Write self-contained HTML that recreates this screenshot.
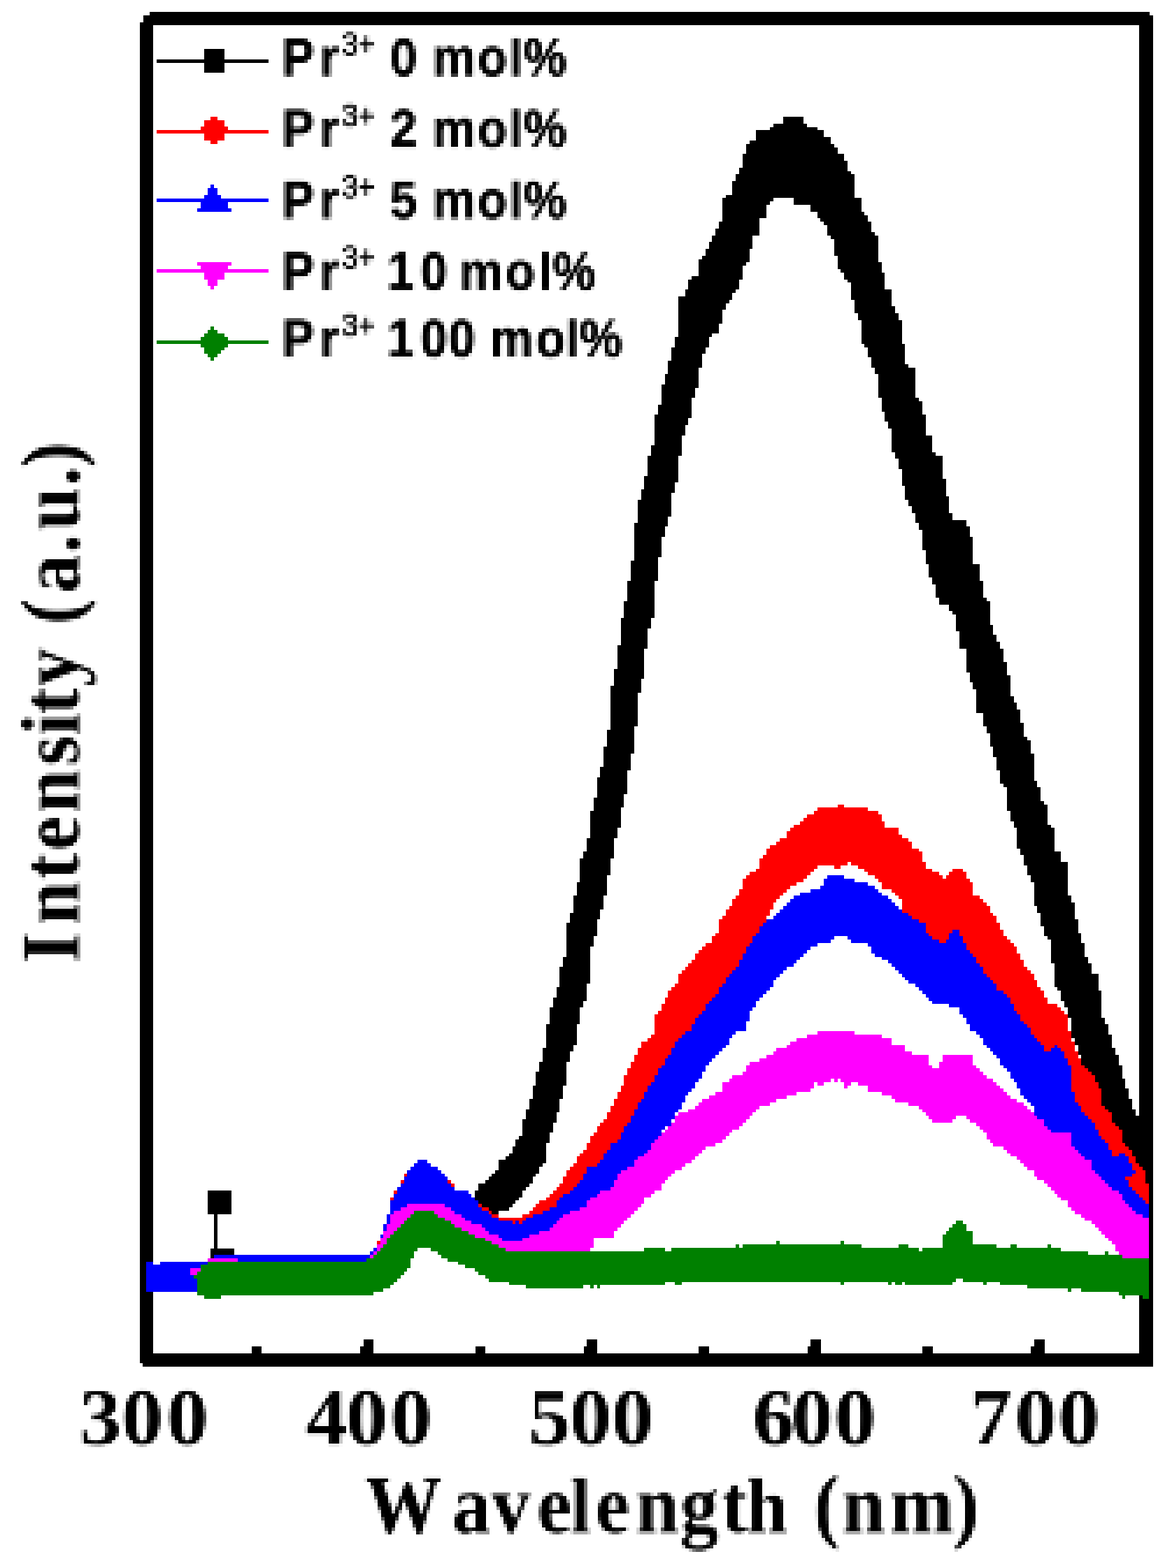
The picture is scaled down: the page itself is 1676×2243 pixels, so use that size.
<!DOCTYPE html>
<html lang="en"><head><meta charset="utf-8"><title>PL intensity vs wavelength</title><style>
html,body{margin:0;padding:0;background:#fff;}
body{width:1676px;height:2243px;overflow:hidden;}
svg{display:block;}
text{font-kerning:none;fill:#000;}
.lg text{font-family:"Liberation Sans",sans-serif;font-weight:700;font-size:76.2px;white-space:pre;stroke:#000;stroke-width:1px;}
.lg .sl{font-size:72px;}
.ax .sa{font-size:112px;}
.lg .sup{font-weight:400;font-size:46.5px;stroke:#000;stroke-width:1.2px;}
.tk text{font-family:"Liberation Serif",serif;font-weight:700;font-size:114.5px;}
.ax{font-family:"Liberation Serif",serif;font-weight:700;font-size:118.0px;white-space:pre;}
</style></head><body>
<svg width="1676" height="2243" viewBox="0 0 1676 2243" shape-rendering="crispEdges">
<rect width="1676" height="2243" fill="#fff"/>
<g fill="#000">
<rect x="199.5" y="17" width="1449" height="19"/>
<rect x="199.5" y="1935.7" width="1449" height="19.3"/>
<rect x="199.5" y="17" width="19.3" height="1938"/>
<rect x="1629" y="17" width="19.5" height="1938"/>
<rect x="519.5" y="1916" width="14.5" height="21"/>
<rect x="514.7" y="1926" width="5" height="11"/>
<rect x="839.3" y="1916" width="14.5" height="21"/>
<rect x="834.5" y="1926" width="5" height="11"/>
<rect x="1159.3" y="1916" width="14.5" height="21"/>
<rect x="1154.5" y="1926" width="5" height="11"/>
<rect x="1479.0" y="1916" width="14.5" height="21"/>
<rect x="1474.2" y="1926" width="5" height="11"/>
<rect x="359.8" y="1926" width="14.5" height="11"/>
<rect x="679.5" y="1926" width="14.5" height="11"/>
<rect x="999.3" y="1926" width="14.5" height="11"/>
<rect x="1319.3" y="1926" width="14.5" height="11"/>
</g>
<g fill="#fff">
<rect x="199" y="16.5" width="5.5" height="15.2"/>
<rect x="199" y="16.5" width="15.2" height="5.2"/>
<rect x="199" y="1950.3" width="5.3" height="5"/>
<rect x="1644" y="16.5" width="5" height="5"/>
</g>
<g fill="#000"><rect x="296.7" y="1703.3" width="34" height="33.6"/><rect x="306" y="1736" width="4.9" height="51"/><rect x="301.3" y="1786" width="34" height="14.5"/></g>
<g>
<path fill="#000000" d="M1120.08 167.11H1149.15V176.8H1120.08ZM1105.55 176.8H1153.99V181.65H1105.55ZM1100.7 181.65H1168.52V186.49H1100.7ZM1081.32 186.49H1178.21V196.18H1081.32ZM1081.32 196.18H1187.9V201.02H1081.32ZM1071.63 201.02H1187.9V205.87H1071.63ZM1066.79 205.87H1192.75V210.71H1066.79ZM1066.79 210.71H1197.59V220.4H1066.79ZM1061.95 220.4H1207.28V230.09H1061.95ZM1061.95 230.09H1212.12V239.78H1061.95ZM1057.1 239.78H1212.12V244.62H1057.1ZM1057.1 244.62H1216.97V249.47H1057.1ZM1052.26 249.47H1221.81V259.16H1052.26ZM1047.41 259.16H1221.81V278.54H1047.41ZM1037.72 278.54H1221.81V283.38H1037.72ZM1032.88 283.38H1105.55V288.23H1032.88ZM1032.88 288.23H1100.7V293.07H1032.88ZM1134.61 283.38H1231.5V293.07H1134.61ZM1158.84 293.07H1231.5V302.76H1158.84ZM1168.52 302.76H1236.35V307.6H1168.52ZM1032.88 293.07H1095.86V312.45H1032.88ZM1168.52 307.6H1241.19V312.45H1168.52ZM1032.88 312.45H1086.17V317.29H1032.88ZM1173.37 312.45H1241.19V317.29H1173.37ZM1178.21 317.29H1246.04V322.14H1178.21ZM1028.03 317.29H1086.17V326.98H1028.03ZM1183.06 322.14H1246.04V331.83H1183.06ZM1023.19 326.98H1086.17V336.67H1023.19ZM1183.06 331.83H1250.88V336.67H1183.06ZM1187.9 336.67H1255.73V341.51H1187.9ZM1018.35 336.67H1076.48V346.36H1018.35ZM1013.5 346.36H1076.48V356.05H1013.5ZM1008.66 356.05H1071.63V365.74H1008.66ZM1192.75 341.51H1255.73V365.74H1192.75ZM1003.81 365.74H1071.63V370.58H1003.81ZM998.97 370.58H1071.63V375.43H998.97ZM1197.59 365.74H1255.73V375.43H1197.59ZM998.97 375.43H1066.79V380.27H998.97ZM1197.59 375.43H1260.57V385.12H1197.59ZM1202.44 385.12H1260.57V389.96H1202.44ZM998.97 380.27H1061.95V394.8H998.97ZM989.28 394.8H1061.95V399.65H989.28ZM1207.28 389.96H1265.41V399.65H1207.28ZM1212.12 399.65H1265.41V404.49H1212.12ZM984.43 399.65H1057.1V414.18H984.43ZM1216.97 404.49H1265.41V414.18H1216.97ZM979.59 414.18H1052.26V419.03H979.59ZM979.59 419.03H1047.41V423.87H979.59ZM969.9 423.87H1047.41V428.72H969.9ZM1216.97 414.18H1275.1V428.72H1216.97ZM969.9 428.72H1042.57V433.56H969.9ZM1221.81 428.72H1275.1V438.4H1221.81ZM969.9 433.56H1037.72V443.25H969.9ZM1221.81 438.4H1279.95V448.09H1221.81ZM1226.66 448.09H1284.79V457.78H1226.66ZM969.9 443.25H1032.88V462.63H969.9ZM969.9 462.63H1028.03V477.16H969.9ZM969.9 477.16H1018.35V482.01H969.9ZM1231.5 457.78H1289.64V491.69H1231.5ZM965.06 482.01H1013.5V496.54H965.06ZM1236.35 491.69H1294.48V496.54H1236.35ZM960.21 496.54H1008.66V506.23H960.21ZM1241.19 496.54H1294.48V511.07H1241.19ZM960.21 506.23H1003.81V515.92H960.21ZM1246.04 511.07H1294.48V520.76H1246.04ZM955.37 515.92H1003.81V525.61H955.37ZM1246.04 520.76H1299.33V525.61H1246.04ZM955.37 525.61H998.97V535.29H955.37ZM1250.88 525.61H1309.02V535.29H1250.88ZM950.52 535.29H998.97V549.83H950.52ZM945.68 549.83H998.97V554.67H945.68ZM945.68 554.67H994.12V569.21H945.68ZM1255.73 535.29H1309.02V569.21H1255.73ZM1260.57 569.21H1313.86V574.05H1260.57ZM945.68 569.21H989.28V578.9H945.68ZM1260.57 574.05H1318.7V588.58H1260.57ZM940.83 578.9H989.28V593.43H940.83ZM1265.41 588.58H1318.7V593.43H1265.41ZM935.99 593.43H989.28V598.27H935.99ZM1265.41 593.43H1323.55V603.12H1265.41ZM935.99 598.27H984.43V607.96H935.99ZM1270.26 603.12H1323.55V612.81H1270.26ZM935.99 607.96H979.59V622.5H935.99ZM1275.1 612.81H1323.55V622.5H1275.1ZM935.99 622.5H974.74V637.03H935.99ZM1275.1 622.5H1333.24V646.72H1275.1ZM931.14 637.03H974.74V651.56H931.14ZM1279.95 646.72H1338.08V651.56H1279.95ZM1279.95 651.56H1347.77V656.41H1279.95ZM1284.79 656.41H1347.77V670.94H1284.79ZM926.3 651.56H969.9V680.63H926.3ZM1289.64 670.94H1347.77V685.47H1289.64ZM921.46 680.63H969.9V690.32H921.46ZM1289.64 685.47H1352.62V695.16H1289.64ZM921.46 690.32H965.06V700.01H921.46ZM916.61 700.01H965.06V704.85H916.61ZM1294.48 695.16H1352.62V709.7H1294.48ZM916.61 704.85H960.21V714.54H916.61ZM1294.48 709.7H1357.46V714.54H1294.48ZM1299.33 714.54H1357.46V724.23H1299.33ZM1304.17 724.23H1357.46V733.92H1304.17ZM911.77 714.54H960.21V738.76H911.77ZM1309.02 733.92H1362.3V743.61H1309.02ZM911.77 738.76H955.37V748.45H911.77ZM1309.02 743.61H1381.68V748.45H1309.02ZM906.92 748.45H955.37V753.3H906.92ZM1313.86 748.45H1381.68V753.3H1313.86ZM1313.86 753.3H1386.53V758.14H1313.86ZM906.92 753.3H950.52V767.83H906.92ZM1318.7 758.14H1386.53V767.83H1318.7ZM1318.7 767.83H1391.37V787.21H1318.7ZM906.92 767.83H945.68V796.9H906.92ZM906.92 796.9H940.83V801.74H906.92ZM1323.55 787.21H1391.37V806.59H1323.55ZM1328.39 806.59H1401.06V825.97H1328.39ZM902.08 801.74H940.83V830.81H902.08ZM1333.24 825.97H1401.06V830.81H1333.24ZM1333.24 830.81H1405.9V835.65H1333.24ZM1338.08 835.65H1405.9V855.03H1338.08ZM897.23 830.81H935.99V859.88H897.23ZM1342.93 855.03H1410.75V859.88H1342.93ZM1342.93 859.88H1415.59V864.72H1342.93ZM1357.46 864.72H1415.59V874.41H1357.46ZM1362.3 874.41H1415.59V879.25H1362.3ZM892.39 859.88H935.99V884.1H892.39ZM1367.15 879.25H1415.59V893.79H1367.15ZM887.54 884.1H931.14V898.63H887.54ZM1367.15 893.79H1420.44V903.48H1367.15ZM1371.99 903.48H1420.44V908.32H1371.99ZM1371.99 908.32H1425.28V918.01H1371.99ZM887.54 898.63H926.3V922.86H887.54ZM882.7 922.86H926.3V927.7H882.7ZM1371.99 918.01H1430.13V927.7H1371.99ZM1381.68 927.7H1434.97V947.08H1381.68ZM882.7 927.7H921.46V956.77H882.7ZM1381.68 947.08H1439.82V961.61H1381.68ZM1386.53 961.61H1439.82V966.46H1386.53ZM877.85 956.77H921.46V971.3H877.85ZM1386.53 966.46H1444.66V976.14H1386.53ZM877.85 971.3H916.61V980.99H877.85ZM1391.37 976.14H1444.66V985.83H1391.37ZM873.01 980.99H916.61V990.68H873.01ZM1396.22 985.83H1444.66V995.52H1396.22ZM1396.22 995.52H1449.51V1005.21H1396.22ZM1396.22 1005.21H1454.35V1014.9H1396.22ZM1396.22 1014.9H1459.19V1019.75H1396.22ZM1405.9 1019.75H1459.19V1034.28H1405.9ZM873.01 990.68H911.77V1039.12H873.01ZM1405.9 1034.28H1464.04V1039.12H1405.9ZM873.01 1039.12H906.92V1043.97H873.01ZM1410.75 1039.12H1464.04V1048.81H1410.75ZM1415.59 1048.81H1464.04V1053.66H1415.59ZM1415.59 1053.66H1468.88V1058.5H1415.59ZM868.17 1043.97H906.92V1068.19H868.17ZM1415.59 1058.5H1473.73V1068.19H1415.59ZM863.32 1068.19H906.92V1077.88H863.32ZM1420.44 1068.19H1473.73V1077.88H1420.44ZM1420.44 1077.88H1478.57V1082.72H1420.44ZM863.32 1077.88H902.08V1097.26H863.32ZM858.48 1097.26H902.08V1102.1H858.48ZM1425.28 1082.72H1478.57V1102.1H1425.28ZM858.48 1102.1H897.23V1111.79H858.48ZM1430.13 1102.1H1478.57V1116.63H1430.13ZM1430.13 1116.63H1483.42V1121.48H1430.13ZM1434.97 1121.48H1483.42V1126.32H1434.97ZM853.63 1111.79H897.23V1136.01H853.63ZM853.63 1136.01H892.39V1140.86H853.63ZM1439.82 1126.32H1488.26V1145.7H1439.82ZM1439.82 1145.7H1493.11V1150.55H1439.82ZM848.79 1140.86H892.39V1155.39H848.79ZM848.79 1155.39H887.54V1160.24H848.79ZM1439.82 1150.55H1497.95V1160.24H1439.82ZM1444.66 1160.24H1497.95V1174.77H1444.66ZM1449.51 1174.77H1497.95V1179.61H1449.51ZM843.94 1160.24H887.54V1184.46H843.94ZM1449.51 1179.61H1502.8V1184.46H1449.51ZM843.94 1184.46H882.7V1198.99H843.94ZM1454.35 1184.46H1507.64V1213.53H1454.35ZM839.1 1198.99H877.85V1218.37H839.1ZM1459.19 1213.53H1507.64V1218.37H1459.19ZM1459.19 1218.37H1517.33V1223.21H1459.19ZM834.25 1218.37H877.85V1228.06H834.25ZM1464.04 1223.21H1517.33V1232.9H1464.04ZM1464.04 1232.9H1527.02V1237.75H1464.04ZM829.41 1228.06H873.01V1252.28H829.41ZM1468.88 1237.75H1527.02V1252.28H1468.88ZM829.41 1252.28H868.17V1261.97H829.41ZM1473.73 1252.28H1527.02V1261.97H1473.73ZM824.57 1261.97H868.17V1281.35H824.57ZM1478.57 1261.97H1527.02V1281.35H1478.57ZM1478.57 1281.35H1531.86V1291.04H1478.57ZM1478.57 1291.04H1536.71V1295.88H1478.57ZM819.72 1281.35H863.32V1300.73H819.72ZM819.72 1300.73H858.48V1305.57H819.72ZM1483.42 1295.88H1536.71V1305.57H1483.42ZM814.88 1305.57H858.48V1315.26H814.88ZM1488.26 1305.57H1536.71V1315.26H1488.26ZM814.88 1315.26H853.63V1320.1H814.88ZM1488.26 1315.26H1541.55V1324.95H1488.26ZM1493.11 1324.95H1541.55V1334.64H1493.11ZM810.03 1320.1H853.63V1339.48H810.03ZM1493.11 1334.64H1546.4V1339.48H1493.11ZM1497.95 1339.48H1546.4V1344.33H1497.95ZM1502.8 1344.33H1546.4V1349.17H1502.8ZM810.03 1339.48H848.79V1354.02H810.03ZM810.03 1354.02H843.94V1368.55H810.03ZM1502.8 1349.17H1551.24V1368.55H1502.8ZM1502.8 1368.55H1556.08V1378.24H1502.8ZM805.19 1368.55H843.94V1383.08H805.19ZM1507.64 1378.24H1560.93V1392.77H1507.64ZM800.34 1383.08H843.94V1407.31H800.34ZM800.34 1407.31H839.1V1412.15H800.34ZM1507.64 1392.77H1570.62V1412.15H1507.64ZM1512.48 1412.15H1570.62V1416.99H1512.48ZM795.5 1412.15H839.1V1426.68H795.5ZM790.65 1426.68H839.1V1431.53H790.65ZM1517.33 1416.99H1575.46V1431.53H1517.33ZM790.65 1431.53H834.25V1441.22H790.65ZM1522.17 1431.53H1575.46V1441.22H1522.17ZM1527.02 1441.22H1575.46V1455.75H1527.02ZM785.81 1441.22H829.41V1465.44H785.81ZM1531.86 1455.75H1580.31V1465.44H1531.86ZM1531.86 1465.44H1585.15V1479.97H1531.86ZM1531.86 1479.97H1590V1484.82H1531.86ZM780.96 1465.44H824.57V1494.51H780.96ZM1536.71 1484.82H1590V1494.51H1536.71ZM780.96 1494.51H819.72V1499.35H780.96ZM1541.55 1494.51H1590V1499.35H1541.55ZM776.12 1499.35H819.72V1504.2H776.12ZM1541.55 1499.35H1594.84V1509.04H1541.55ZM776.12 1504.2H814.88V1518.73H776.12ZM1546.4 1509.04H1599.68V1523.57H1546.4ZM1551.24 1523.57H1604.53V1528.42H1551.24ZM771.28 1518.73H810.03V1533.26H771.28ZM1556.08 1528.42H1604.53V1533.26H1556.08ZM1560.93 1533.26H1604.53V1538.11H1560.93ZM1565.77 1538.11H1604.53V1542.95H1565.77ZM1565.77 1542.95H1609.37V1547.8H1565.77ZM766.43 1533.26H810.03V1552.64H766.43ZM1570.62 1547.8H1609.37V1557.48H1570.62ZM761.59 1552.64H805.19V1572.02H761.59ZM1575.46 1557.48H1614.22V1572.02H1575.46ZM1575.46 1572.02H1619.06V1581.71H1575.46ZM756.74 1572.02H800.34V1586.55H756.74ZM1580.31 1581.71H1619.06V1586.55H1580.31ZM751.9 1586.55H800.34V1591.4H751.9ZM1585.15 1586.55H1623.91V1591.4H1585.15ZM1590 1591.4H1623.91V1596.24H1590ZM751.9 1591.4H795.5V1601.09H751.9ZM1590 1596.24H1628.75V1601.09H1590ZM1638.44 1596.24H1643.29V1601.09H1638.44ZM747.05 1601.09H795.5V1605.93H747.05ZM1590 1601.09H1643.29V1605.93H1590ZM1594.84 1605.93H1643.29V1610.77H1594.84ZM1599.68 1610.77H1643.29V1615.62H1599.68ZM747.05 1605.93H790.65V1620.46H747.05ZM747.05 1620.46H785.81V1625.31H747.05ZM742.21 1625.31H785.81V1630.15H742.21ZM737.36 1630.15H785.81V1635H737.36ZM1604.53 1615.62H1643.29V1635H1604.53ZM737.36 1635H780.96V1639.84H737.36ZM1609.37 1635H1643.29V1639.84H1609.37ZM1614.22 1639.84H1643.29V1644.69H1614.22ZM732.52 1639.84H780.96V1649.53H732.52ZM727.67 1649.53H780.96V1654.37H727.67ZM1619.06 1644.69H1643.29V1654.37H1619.06ZM722.83 1654.37H780.96V1659.22H722.83ZM713.14 1659.22H780.96V1664.06H713.14ZM1623.91 1654.37H1643.29V1664.06H1623.91ZM713.14 1664.06H776.12V1668.91H713.14ZM1628.75 1664.06H1643.29V1668.91H1628.75ZM713.14 1668.91H771.28V1673.75H713.14ZM1633.6 1668.91H1643.29V1673.75H1633.6ZM708.3 1673.75H771.28V1678.6H708.3ZM703.45 1678.6H766.43V1683.44H703.45ZM698.61 1683.44H761.59V1688.29H698.61ZM693.76 1688.29H761.59V1693.13H693.76ZM1638.44 1673.75H1643.29V1693.13H1638.44ZM684.07 1693.13H756.74V1697.98H684.07ZM684.07 1697.98H751.9V1702.82H684.07ZM679.23 1702.82H747.05V1712.51H679.23ZM679.23 1712.51H742.21V1717.35H679.23ZM684.07 1717.35H737.36V1722.2H684.07ZM688.92 1722.2H732.52V1727.04H688.92ZM698.61 1727.04H727.67V1731.89H698.61ZM703.45 1731.89H713.14V1736.73H703.45Z"/>
<path fill="#ff0000" d="M1197.59 1150.55H1207.28V1155.39H1197.59ZM1168.52 1155.39H1241.19V1160.24H1168.52ZM1163.68 1160.24H1255.73V1165.08H1163.68ZM1153.99 1165.08H1260.57V1169.92H1153.99ZM1149.15 1169.92H1260.57V1174.77H1149.15ZM1144.3 1174.77H1265.41V1179.61H1144.3ZM1134.61 1179.61H1265.41V1184.46H1134.61ZM1129.77 1184.46H1284.79V1189.3H1129.77ZM1124.92 1189.3H1284.79V1194.15H1124.92ZM1124.92 1194.15H1289.64V1198.99H1124.92ZM1115.23 1198.99H1299.33V1203.84H1115.23ZM1110.39 1203.84H1304.17V1208.68H1110.39ZM1100.7 1208.68H1304.17V1213.53H1100.7ZM1095.86 1213.53H1313.86V1218.37H1095.86ZM1095.86 1218.37H1318.7V1223.21H1095.86ZM1091.01 1223.21H1318.7V1228.06H1091.01ZM1086.17 1228.06H1318.7V1232.9H1086.17ZM1086.17 1232.9H1212.12V1237.75H1086.17ZM1216.97 1232.9H1323.55V1237.75H1216.97ZM1086.17 1237.75H1168.52V1242.59H1086.17ZM1192.75 1237.75H1202.44V1242.59H1192.75ZM1226.66 1237.75H1323.55V1242.59H1226.66ZM1081.32 1242.59H1163.68V1247.44H1081.32ZM1236.35 1242.59H1333.24V1247.44H1236.35ZM1362.3 1242.59H1376.84V1247.44H1362.3ZM1071.63 1247.44H1158.84V1252.28H1071.63ZM1241.19 1247.44H1342.93V1252.28H1241.19ZM1357.46 1247.44H1381.68V1252.28H1357.46ZM1066.79 1252.28H1153.99V1257.13H1066.79ZM1250.88 1252.28H1347.77V1257.13H1250.88ZM1352.62 1252.28H1381.68V1257.13H1352.62ZM1061.95 1257.13H1149.15V1261.97H1061.95ZM1255.73 1257.13H1386.53V1261.97H1255.73ZM1061.95 1261.97H1139.46V1266.81H1061.95ZM1061.95 1266.81H1129.77V1271.66H1061.95ZM1260.57 1261.97H1391.37V1271.66H1260.57ZM1057.1 1271.66H1124.92V1276.5H1057.1ZM1275.1 1271.66H1391.37V1276.5H1275.1ZM1057.1 1276.5H1120.08V1281.35H1057.1ZM1279.95 1276.5H1391.37V1281.35H1279.95ZM1052.26 1281.35H1115.23V1286.19H1052.26ZM1284.79 1281.35H1401.06V1286.19H1284.79ZM1047.41 1286.19H1110.39V1291.04H1047.41ZM1289.64 1286.19H1405.9V1291.04H1289.64ZM1047.41 1291.04H1105.55V1295.88H1047.41ZM1289.64 1291.04H1410.75V1295.88H1289.64ZM1042.57 1295.88H1105.55V1300.73H1042.57ZM1289.64 1295.88H1415.59V1305.57H1289.64ZM1037.72 1300.73H1100.7V1310.42H1037.72ZM1299.33 1305.57H1420.44V1310.42H1299.33ZM1032.88 1310.42H1095.86V1315.26H1032.88ZM1304.17 1310.42H1425.28V1315.26H1304.17ZM1028.03 1315.26H1095.86V1320.1H1028.03ZM1313.86 1315.26H1425.28V1320.1H1313.86ZM1028.03 1320.1H1091.01V1324.95H1028.03ZM1323.55 1320.1H1430.13V1329.79H1323.55ZM1028.03 1324.95H1086.17V1334.64H1028.03ZM1323.55 1329.79H1362.3V1334.64H1323.55ZM1023.19 1334.64H1081.32V1339.48H1023.19ZM1328.39 1334.64H1357.46V1339.48H1328.39ZM1371.99 1329.79H1434.97V1339.48H1371.99ZM1333.24 1339.48H1357.46V1344.33H1333.24ZM1376.84 1339.48H1439.82V1344.33H1376.84ZM1018.35 1339.48H1076.48V1349.17H1018.35ZM1342.93 1344.33H1352.62V1349.17H1342.93ZM1376.84 1344.33H1444.66V1349.17H1376.84ZM1008.66 1349.17H1071.63V1354.02H1008.66ZM1381.68 1349.17H1449.51V1354.02H1381.68ZM1003.81 1354.02H1066.79V1358.86H1003.81ZM1381.68 1354.02H1454.35V1358.86H1381.68ZM998.97 1358.86H1066.79V1363.7H998.97ZM1386.53 1358.86H1454.35V1363.7H1386.53ZM1391.37 1363.7H1459.19V1368.55H1391.37ZM994.12 1363.7H1061.95V1373.39H994.12ZM1396.22 1368.55H1459.19V1373.39H1396.22ZM989.28 1373.39H1057.1V1378.24H989.28ZM1396.22 1373.39H1464.04V1378.24H1396.22ZM984.43 1378.24H1057.1V1383.08H984.43ZM1401.06 1378.24H1464.04V1383.08H1401.06ZM979.59 1383.08H1052.26V1387.93H979.59ZM1405.9 1383.08H1468.88V1387.93H1405.9ZM974.74 1387.93H1047.41V1392.77H974.74ZM1405.9 1387.93H1473.73V1392.77H1405.9ZM969.9 1392.77H1042.57V1397.62H969.9ZM1410.75 1392.77H1478.57V1397.62H1410.75ZM1415.59 1397.62H1478.57V1402.46H1415.59ZM969.9 1397.62H1037.72V1407.31H969.9ZM1420.44 1402.46H1483.42V1407.31H1420.44ZM965.06 1407.31H1032.88V1412.15H965.06ZM1425.28 1407.31H1483.42V1412.15H1425.28ZM960.21 1412.15H1028.03V1416.99H960.21ZM1425.28 1412.15H1488.26V1416.99H1425.28ZM955.37 1416.99H1028.03V1421.84H955.37ZM1434.97 1416.99H1493.11V1421.84H1434.97ZM955.37 1421.84H1023.19V1426.68H955.37ZM1439.82 1421.84H1493.11V1426.68H1439.82ZM950.52 1426.68H1018.35V1431.53H950.52ZM950.52 1431.53H1013.5V1436.37H950.52ZM1444.66 1426.68H1497.95V1436.37H1444.66ZM1449.51 1436.37H1512.48V1441.22H1449.51ZM945.68 1436.37H1008.66V1446.06H945.68ZM1449.51 1441.22H1517.33V1446.06H1449.51ZM940.83 1446.06H1003.81V1450.91H940.83ZM1454.35 1446.06H1522.17V1450.91H1454.35ZM935.99 1450.91H998.97V1455.75H935.99ZM1459.19 1450.91H1527.02V1460.59H1459.19ZM935.99 1455.75H994.12V1465.44H935.99ZM1464.04 1460.59H1527.02V1465.44H1464.04ZM1468.88 1465.44H1527.02V1470.28H1468.88ZM935.99 1465.44H989.28V1475.13H935.99ZM1473.73 1470.28H1527.02V1475.13H1473.73ZM935.99 1475.13H979.59V1479.97H935.99ZM1473.73 1475.13H1531.86V1479.97H1473.73ZM931.14 1479.97H974.74V1484.82H931.14ZM1478.57 1479.97H1531.86V1484.82H1478.57ZM926.3 1484.82H969.9V1489.66H926.3ZM1483.42 1484.82H1531.86V1489.66H1483.42ZM1488.26 1489.66H1536.71V1494.51H1488.26ZM916.61 1489.66H965.06V1499.35H916.61ZM1493.11 1494.51H1507.64V1499.35H1493.11ZM1512.48 1494.51H1536.71V1499.35H1512.48ZM1493.11 1499.35H1502.8V1504.2H1493.11ZM1517.33 1499.35H1536.71V1504.2H1517.33ZM911.77 1499.35H960.21V1509.04H911.77ZM906.92 1509.04H955.37V1513.88H906.92ZM1522.17 1504.2H1541.55V1513.88H1522.17ZM906.92 1513.88H950.52V1518.73H906.92ZM902.08 1518.73H950.52V1523.57H902.08ZM1527.02 1513.88H1546.4V1523.57H1527.02ZM902.08 1523.57H945.68V1528.42H902.08ZM1531.86 1523.57H1551.24V1528.42H1531.86ZM1531.86 1528.42H1556.08V1533.26H1531.86ZM897.23 1528.42H940.83V1538.11H897.23ZM1531.86 1533.26H1560.93V1538.11H1531.86ZM892.39 1538.11H935.99V1547.8H892.39ZM1531.86 1538.11H1565.77V1547.8H1531.86ZM892.39 1547.8H931.14V1552.64H892.39ZM1531.86 1547.8H1570.62V1557.48H1531.86ZM887.54 1552.64H926.3V1562.33H887.54ZM1531.86 1557.48H1575.46V1562.33H1531.86ZM882.7 1562.33H921.46V1572.02H882.7ZM877.85 1572.02H916.61V1576.86H877.85ZM1536.71 1562.33H1575.46V1576.86H1536.71ZM877.85 1576.86H911.77V1581.71H877.85ZM1541.55 1576.86H1575.46V1581.71H1541.55ZM873.01 1581.71H911.77V1586.55H873.01ZM1546.4 1581.71H1580.31V1586.55H1546.4ZM873.01 1586.55H906.92V1591.4H873.01ZM1546.4 1586.55H1585.15V1591.4H1546.4ZM868.17 1591.4H906.92V1596.24H868.17ZM1551.24 1591.4H1590V1596.24H1551.24ZM868.17 1596.24H902.08V1601.09H868.17ZM1556.08 1596.24H1590V1601.09H1556.08ZM863.32 1601.09H902.08V1605.93H863.32ZM1560.93 1601.09H1590V1605.93H1560.93ZM858.48 1605.93H897.23V1610.77H858.48ZM1565.77 1605.93H1594.84V1610.77H1565.77ZM1565.77 1610.77H1599.68V1615.62H1565.77ZM853.63 1610.77H892.39V1620.46H853.63ZM848.79 1620.46H887.54V1625.31H848.79ZM1570.62 1615.62H1604.53V1625.31H1570.62ZM843.94 1625.31H887.54V1630.15H843.94ZM1575.46 1625.31H1604.53V1630.15H1575.46ZM843.94 1630.15H882.7V1635H843.94ZM1580.31 1630.15H1604.53V1635H1580.31ZM1585.15 1635H1609.37V1639.84H1585.15ZM839.1 1635H873.01V1644.69H839.1ZM1585.15 1639.84H1614.22V1644.69H1585.15ZM834.25 1644.69H868.17V1649.53H834.25ZM1590 1644.69H1619.06V1649.53H1590ZM829.41 1649.53H863.32V1654.37H829.41ZM1590 1649.53H1599.68V1654.37H1590ZM1609.37 1649.53H1619.06V1654.37H1609.37ZM824.57 1654.37H863.32V1659.22H824.57ZM824.57 1659.22H858.48V1664.06H824.57ZM1614.22 1654.37H1623.91V1664.06H1614.22ZM819.72 1664.06H853.63V1668.91H819.72ZM1619.06 1664.06H1628.75V1668.91H1619.06ZM814.88 1668.91H839.1V1673.75H814.88ZM1619.06 1668.91H1633.6V1673.75H1619.06ZM810.03 1673.75H839.1V1678.6H810.03ZM1623.91 1673.75H1638.44V1678.6H1623.91ZM577.5 1678.6H582.34V1683.44H577.5ZM810.03 1678.6H834.25V1683.44H810.03ZM1619.06 1678.6H1638.44V1683.44H1619.06ZM805.19 1683.44H834.25V1688.29H805.19ZM1609.37 1683.44H1638.44V1688.29H1609.37ZM572.65 1688.29H577.5V1693.13H572.65ZM640.47 1688.29H645.32V1693.13H640.47ZM805.19 1688.29H829.41V1693.13H805.19ZM1614.22 1688.29H1638.44V1693.13H1614.22ZM645.32 1693.13H650.16V1697.98H645.32ZM800.34 1693.13H824.57V1697.98H800.34ZM1614.22 1693.13H1643.29V1697.98H1614.22ZM795.5 1697.98H819.72V1702.82H795.5ZM1619.06 1697.98H1643.29V1702.82H1619.06ZM562.96 1702.82H567.81V1707.66H562.96ZM790.65 1702.82H814.88V1707.66H790.65ZM1623.91 1702.82H1643.29V1707.66H1623.91ZM785.81 1707.66H805.19V1712.51H785.81ZM1628.75 1707.66H1643.29V1712.51H1628.75ZM558.12 1712.51H562.96V1717.35H558.12ZM780.96 1712.51H800.34V1717.35H780.96ZM1633.6 1712.51H1643.29V1717.35H1633.6ZM771.28 1717.35H795.5V1722.2H771.28ZM1638.44 1717.35H1643.29V1722.2H1638.44ZM684.07 1722.2H688.92V1727.04H684.07ZM766.43 1722.2H795.5V1727.04H766.43ZM688.92 1727.04H698.61V1731.89H688.92ZM761.59 1727.04H785.81V1731.89H761.59ZM698.61 1731.89H703.45V1736.73H698.61ZM756.74 1731.89H776.12V1736.73H756.74ZM703.45 1736.73H713.14V1741.58H703.45ZM747.05 1736.73H761.59V1741.58H747.05ZM713.14 1741.58H751.9V1746.42H713.14ZM732.52 1746.42H737.36V1751.26H732.52ZM742.21 1746.42H747.05V1751.26H742.21ZM538.74 1775.49H543.58V1780.33H538.74Z"/>
<path fill="#0000ff" d="M1183.06 1252.28H1207.28V1257.13H1183.06ZM1178.21 1257.13H1221.81V1261.97H1178.21ZM1178.21 1261.97H1241.19V1266.81H1178.21ZM1173.37 1266.81H1250.88V1271.66H1173.37ZM1158.84 1271.66H1255.73V1276.5H1158.84ZM1144.3 1276.5H1260.57V1281.35H1144.3ZM1134.61 1281.35H1270.26V1286.19H1134.61ZM1129.77 1286.19H1275.1V1291.04H1129.77ZM1124.92 1291.04H1279.95V1295.88H1124.92ZM1120.08 1295.88H1284.79V1300.73H1120.08ZM1115.23 1300.73H1289.64V1305.57H1115.23ZM1110.39 1305.57H1299.33V1310.42H1110.39ZM1105.55 1310.42H1304.17V1315.26H1105.55ZM1095.86 1315.26H1313.86V1320.1H1095.86ZM1091.01 1320.1H1323.55V1324.95H1091.01ZM1086.17 1324.95H1323.55V1334.64H1086.17ZM1362.3 1329.79H1371.99V1334.64H1362.3ZM1081.32 1334.64H1328.39V1339.48H1081.32ZM1357.46 1334.64H1371.99V1339.48H1357.46ZM1076.48 1339.48H1192.75V1344.33H1076.48ZM1212.12 1339.48H1333.24V1344.33H1212.12ZM1357.46 1339.48H1376.84V1344.33H1357.46ZM1076.48 1344.33H1187.9V1349.17H1076.48ZM1216.97 1344.33H1342.93V1349.17H1216.97ZM1352.62 1344.33H1376.84V1349.17H1352.62ZM1071.63 1349.17H1168.52V1354.02H1071.63ZM1241.19 1349.17H1381.68V1354.02H1241.19ZM1066.79 1354.02H1158.84V1358.86H1066.79ZM1246.04 1354.02H1381.68V1358.86H1246.04ZM1066.79 1358.86H1153.99V1363.7H1066.79ZM1246.04 1358.86H1386.53V1363.7H1246.04ZM1061.95 1363.7H1149.15V1368.55H1061.95ZM1250.88 1363.7H1391.37V1368.55H1250.88ZM1061.95 1368.55H1144.3V1373.39H1061.95ZM1260.57 1368.55H1396.22V1373.39H1260.57ZM1057.1 1373.39H1139.46V1378.24H1057.1ZM1270.26 1373.39H1396.22V1378.24H1270.26ZM1057.1 1378.24H1134.61V1383.08H1057.1ZM1275.1 1378.24H1401.06V1383.08H1275.1ZM1052.26 1383.08H1124.92V1387.93H1052.26ZM1279.95 1383.08H1405.9V1387.93H1279.95ZM1047.41 1387.93H1120.08V1392.77H1047.41ZM1284.79 1387.93H1405.9V1392.77H1284.79ZM1042.57 1392.77H1115.23V1397.62H1042.57ZM1289.64 1392.77H1410.75V1397.62H1289.64ZM1037.72 1397.62H1110.39V1402.46H1037.72ZM1294.48 1397.62H1415.59V1402.46H1294.48ZM1037.72 1402.46H1105.55V1407.31H1037.72ZM1299.33 1402.46H1420.44V1407.31H1299.33ZM1032.88 1407.31H1105.55V1412.15H1032.88ZM1309.02 1407.31H1425.28V1412.15H1309.02ZM1028.03 1412.15H1100.7V1416.99H1028.03ZM1313.86 1412.15H1425.28V1416.99H1313.86ZM1028.03 1416.99H1095.86V1421.84H1028.03ZM1318.7 1416.99H1434.97V1421.84H1318.7ZM1023.19 1421.84H1091.01V1426.68H1023.19ZM1323.55 1421.84H1439.82V1426.68H1323.55ZM1018.35 1426.68H1086.17V1431.53H1018.35ZM1328.39 1426.68H1444.66V1431.53H1328.39ZM1013.5 1431.53H1081.32V1436.37H1013.5ZM1333.24 1431.53H1444.66V1436.37H1333.24ZM1008.66 1436.37H1081.32V1441.22H1008.66ZM1357.46 1436.37H1449.51V1441.22H1357.46ZM1008.66 1441.22H1076.48V1446.06H1008.66ZM1371.99 1441.22H1449.51V1446.06H1371.99ZM1003.81 1446.06H1071.63V1450.91H1003.81ZM1371.99 1446.06H1454.35V1450.91H1371.99ZM998.97 1450.91H1071.63V1455.75H998.97ZM1376.84 1450.91H1459.19V1455.75H1376.84ZM994.12 1455.75H1071.63V1460.59H994.12ZM1381.68 1455.75H1459.19V1460.59H1381.68ZM994.12 1460.59H1066.79V1465.44H994.12ZM1381.68 1460.59H1464.04V1465.44H1381.68ZM1386.53 1465.44H1468.88V1470.28H1386.53ZM989.28 1465.44H1066.79V1475.13H989.28ZM1386.53 1470.28H1473.73V1475.13H1386.53ZM979.59 1475.13H1052.26V1479.97H979.59ZM1396.22 1475.13H1473.73V1479.97H1396.22ZM974.74 1479.97H1047.41V1484.82H974.74ZM1401.06 1479.97H1478.57V1484.82H1401.06ZM969.9 1484.82H1042.57V1489.66H969.9ZM1405.9 1484.82H1483.42V1489.66H1405.9ZM965.06 1489.66H1042.57V1494.51H965.06ZM1405.9 1489.66H1488.26V1494.51H1405.9ZM965.06 1494.51H1037.72V1499.35H965.06ZM1410.75 1494.51H1493.11V1499.35H1410.75ZM1507.64 1494.51H1512.48V1499.35H1507.64ZM960.21 1499.35H1032.88V1504.2H960.21ZM1415.59 1499.35H1493.11V1504.2H1415.59ZM1502.8 1499.35H1517.33V1504.2H1502.8ZM960.21 1504.2H1028.03V1509.04H960.21ZM1420.44 1504.2H1522.17V1509.04H1420.44ZM955.37 1509.04H1023.19V1513.88H955.37ZM1425.28 1509.04H1522.17V1513.88H1425.28ZM950.52 1513.88H1018.35V1518.73H950.52ZM950.52 1518.73H1013.5V1523.57H950.52ZM1430.13 1513.88H1527.02V1523.57H1430.13ZM945.68 1523.57H1008.66V1528.42H945.68ZM1434.97 1523.57H1531.86V1528.42H1434.97ZM940.83 1528.42H1008.66V1533.26H940.83ZM1439.82 1528.42H1531.86V1533.26H1439.82ZM940.83 1533.26H1003.81V1538.11H940.83ZM935.99 1538.11H1003.81V1542.95H935.99ZM1444.66 1533.26H1531.86V1542.95H1444.66ZM935.99 1542.95H998.97V1547.8H935.99ZM1449.51 1542.95H1531.86V1547.8H1449.51ZM931.14 1547.8H994.12V1552.64H931.14ZM926.3 1552.64H994.12V1557.48H926.3ZM1454.35 1547.8H1531.86V1557.48H1454.35ZM926.3 1557.48H989.28V1562.33H926.3ZM1459.19 1557.48H1531.86V1562.33H1459.19ZM921.46 1562.33H984.43V1567.17H921.46ZM1459.19 1562.33H1536.71V1567.17H1459.19ZM921.46 1567.17H979.59V1572.02H921.46ZM1464.04 1567.17H1536.71V1572.02H1464.04ZM916.61 1572.02H979.59V1576.86H916.61ZM1468.88 1572.02H1536.71V1576.86H1468.88ZM1473.73 1576.86H1541.55V1581.71H1473.73ZM911.77 1576.86H974.74V1586.55H911.77ZM906.92 1586.55H969.9V1591.4H906.92ZM1478.57 1581.71H1546.4V1591.4H1478.57ZM906.92 1591.4H965.06V1596.24H906.92ZM1478.57 1591.4H1551.24V1596.24H1478.57ZM902.08 1596.24H965.06V1601.09H902.08ZM1483.42 1596.24H1556.08V1601.09H1483.42ZM902.08 1601.09H960.21V1605.93H902.08ZM1493.11 1601.09H1560.93V1605.93H1493.11ZM897.23 1605.93H960.21V1610.77H897.23ZM1493.11 1605.93H1565.77V1610.77H1493.11ZM892.39 1610.77H950.52V1615.62H892.39ZM1497.95 1610.77H1565.77V1615.62H1497.95ZM892.39 1615.62H945.68V1620.46H892.39ZM1502.8 1615.62H1570.62V1620.46H1502.8ZM887.54 1620.46H945.68V1625.31H887.54ZM1531.86 1620.46H1570.62V1625.31H1531.86ZM887.54 1625.31H940.83V1630.15H887.54ZM1531.86 1625.31H1575.46V1630.15H1531.86ZM882.7 1630.15H935.99V1635H882.7ZM1531.86 1630.15H1580.31V1635H1531.86ZM1531.86 1635H1585.15V1639.84H1531.86ZM873.01 1635H931.14V1644.69H873.01ZM1536.71 1639.84H1585.15V1644.69H1536.71ZM868.17 1644.69H926.3V1649.53H868.17ZM1541.55 1644.69H1590V1649.53H1541.55ZM863.32 1649.53H921.46V1654.37H863.32ZM1546.4 1649.53H1590V1654.37H1546.4ZM1599.68 1649.53H1609.37V1654.37H1599.68ZM863.32 1654.37H911.77V1659.22H863.32ZM1551.24 1654.37H1614.22V1659.22H1551.24ZM596.87 1659.22H611.41V1664.06H596.87ZM858.48 1659.22H906.92V1664.06H858.48ZM1560.93 1659.22H1614.22V1664.06H1560.93ZM592.03 1664.06H616.25V1668.91H592.03ZM853.63 1664.06H906.92V1668.91H853.63ZM587.18 1668.91H625.94V1673.75H587.18ZM839.1 1668.91H897.23V1673.75H839.1ZM1560.93 1664.06H1619.06V1673.75H1560.93ZM582.34 1673.75H630.78V1678.6H582.34ZM839.1 1673.75H887.54V1678.6H839.1ZM1565.77 1673.75H1623.91V1678.6H1565.77ZM582.34 1678.6H635.63V1683.44H582.34ZM1570.62 1678.6H1619.06V1683.44H1570.62ZM834.25 1678.6H882.7V1688.29H834.25ZM1575.46 1683.44H1609.37V1688.29H1575.46ZM577.5 1683.44H640.47V1693.13H577.5ZM829.41 1688.29H877.85V1693.13H829.41ZM1580.31 1688.29H1614.22V1693.13H1580.31ZM572.65 1693.13H645.32V1697.98H572.65ZM824.57 1693.13H877.85V1697.98H824.57ZM1585.15 1693.13H1614.22V1697.98H1585.15ZM567.81 1697.98H650.16V1702.82H567.81ZM819.72 1697.98H873.01V1702.82H819.72ZM1590 1697.98H1619.06V1702.82H1590ZM567.81 1702.82H669.54V1707.66H567.81ZM814.88 1702.82H858.48V1707.66H814.88ZM1599.68 1702.82H1623.91V1707.66H1599.68ZM562.96 1707.66H674.39V1712.51H562.96ZM805.19 1707.66H853.63V1712.51H805.19ZM1604.53 1707.66H1628.75V1712.51H1604.53ZM562.96 1712.51H679.23V1717.35H562.96ZM800.34 1712.51H843.94V1717.35H800.34ZM1604.53 1712.51H1633.6V1717.35H1604.53ZM558.12 1717.35H684.07V1722.2H558.12ZM1609.37 1717.35H1638.44V1722.2H1609.37ZM558.12 1722.2H582.34V1727.04H558.12ZM635.63 1722.2H684.07V1727.04H635.63ZM795.5 1717.35H839.1V1727.04H795.5ZM1614.22 1722.2H1643.29V1727.04H1614.22ZM558.12 1727.04H572.65V1731.89H558.12ZM645.32 1727.04H688.92V1731.89H645.32ZM785.81 1727.04H829.41V1731.89H785.81ZM1619.06 1727.04H1643.29V1731.89H1619.06ZM558.12 1731.89H562.96V1736.73H558.12ZM650.16 1731.89H698.61V1736.73H650.16ZM776.12 1731.89H814.88V1736.73H776.12ZM1623.91 1731.89H1643.29V1736.73H1623.91ZM659.85 1736.73H703.45V1741.58H659.85ZM761.59 1736.73H805.19V1741.58H761.59ZM1633.6 1736.73H1643.29V1741.58H1633.6ZM664.7 1741.58H713.14V1746.42H664.7ZM751.9 1741.58H800.34V1746.42H751.9ZM553.27 1736.73H558.12V1751.26H553.27ZM674.39 1746.42H732.52V1751.26H674.39ZM737.36 1746.42H742.21V1751.26H737.36ZM747.05 1746.42H795.5V1751.26H747.05ZM688.92 1751.26H790.65V1756.11H688.92ZM548.43 1751.26H553.27V1760.95H548.43ZM693.76 1756.11H785.81V1760.95H693.76ZM698.61 1760.95H771.28V1765.8H698.61ZM543.58 1765.8H548.43V1770.64H543.58ZM713.14 1765.8H756.74V1770.64H713.14ZM717.99 1770.64H747.05V1775.49H717.99ZM533.89 1785.18H538.74V1790.02H533.89ZM529.05 1790.02H533.89V1794.87H529.05ZM306.2 1794.87H529.05V1799.71H306.2ZM340.12 1799.71H524.21V1804.55H340.12ZM209.31 1804.55H219V1809.4H209.31ZM228.69 1804.55H296.51V1809.4H228.69ZM209.31 1809.4H286.83V1814.24H209.31ZM209.31 1814.24H272.29V1823.93H209.31ZM209.31 1823.93H277.14V1828.78H209.31ZM209.31 1828.78H281.98V1848.15H209.31Z"/>
<path fill="#ff00ff" d="M1168.52 1475.13H1221.81V1479.97H1168.52ZM1153.99 1479.97H1260.57V1484.82H1153.99ZM1139.46 1484.82H1275.1V1489.66H1139.46ZM1129.77 1489.66H1275.1V1494.51H1129.77ZM1124.92 1494.51H1294.48V1499.35H1124.92ZM1110.39 1499.35H1294.48V1504.2H1110.39ZM1105.55 1504.2H1304.17V1509.04H1105.55ZM1095.86 1509.04H1328.39V1513.88H1095.86ZM1086.17 1513.88H1328.39V1518.73H1086.17ZM1347.77 1509.04H1391.37V1518.73H1347.77ZM1071.63 1518.73H1328.39V1523.57H1071.63ZM1342.93 1518.73H1391.37V1523.57H1342.93ZM1066.79 1523.57H1333.24V1528.42H1066.79ZM1342.93 1523.57H1396.22V1528.42H1342.93ZM1066.79 1528.42H1401.06V1533.26H1066.79ZM1061.95 1533.26H1405.9V1538.11H1061.95ZM1047.41 1538.11H1410.75V1542.95H1047.41ZM1042.57 1542.95H1187.9V1547.8H1042.57ZM1192.75 1542.95H1197.59V1547.8H1192.75ZM1202.44 1542.95H1420.44V1547.8H1202.44ZM1168.52 1547.8H1178.21V1552.64H1168.52ZM1207.28 1547.8H1216.97V1552.64H1207.28ZM1226.66 1547.8H1425.28V1552.64H1226.66ZM1032.88 1547.8H1163.68V1557.48H1032.88ZM1207.28 1552.64H1212.12V1557.48H1207.28ZM1241.19 1552.64H1430.13V1557.48H1241.19ZM1032.88 1557.48H1158.84V1562.33H1032.88ZM1241.19 1557.48H1434.97V1562.33H1241.19ZM1023.19 1562.33H1139.46V1567.17H1023.19ZM1260.57 1562.33H1439.82V1567.17H1260.57ZM1013.5 1567.17H1124.92V1572.02H1013.5ZM1275.1 1567.17H1444.66V1572.02H1275.1ZM1003.81 1572.02H1110.39V1576.86H1003.81ZM1279.95 1572.02H1454.35V1576.86H1279.95ZM998.97 1576.86H1100.7V1581.71H998.97ZM1299.33 1576.86H1464.04V1581.71H1299.33ZM994.12 1581.71H1086.17V1586.55H994.12ZM1313.86 1581.71H1468.88V1586.55H1313.86ZM984.43 1586.55H1081.32V1591.4H984.43ZM1318.7 1586.55H1473.73V1591.4H1318.7ZM969.9 1591.4H1076.48V1596.24H969.9ZM1323.55 1591.4H1478.57V1596.24H1323.55ZM965.06 1596.24H1071.63V1601.09H965.06ZM1328.39 1596.24H1367.15V1601.09H1328.39ZM1381.68 1596.24H1483.42V1601.09H1381.68ZM965.06 1601.09H1066.79V1605.93H965.06ZM1333.24 1601.09H1362.3V1605.93H1333.24ZM1386.53 1601.09H1493.11V1605.93H1386.53ZM960.21 1605.93H1061.95V1610.77H960.21ZM1396.22 1605.93H1493.11V1610.77H1396.22ZM955.37 1610.77H1057.1V1615.62H955.37ZM1401.06 1610.77H1497.95V1615.62H1401.06ZM950.52 1615.62H1047.41V1620.46H950.52ZM1405.9 1615.62H1502.8V1620.46H1405.9ZM945.68 1620.46H1042.57V1625.31H945.68ZM940.83 1625.31H1037.72V1630.15H940.83ZM1410.75 1620.46H1531.86V1630.15H1410.75ZM935.99 1630.15H1032.88V1635H935.99ZM1415.59 1630.15H1531.86V1635H1415.59ZM931.14 1635H1023.19V1639.84H931.14ZM1420.44 1635H1531.86V1639.84H1420.44ZM931.14 1639.84H1008.66V1644.69H931.14ZM1434.97 1639.84H1536.71V1644.69H1434.97ZM926.3 1644.69H1003.81V1649.53H926.3ZM1439.82 1644.69H1541.55V1649.53H1439.82ZM921.46 1649.53H998.97V1654.37H921.46ZM1444.66 1649.53H1546.4V1654.37H1444.66ZM911.77 1654.37H994.12V1659.22H911.77ZM1454.35 1654.37H1551.24V1659.22H1454.35ZM906.92 1659.22H989.28V1664.06H906.92ZM1459.19 1659.22H1560.93V1664.06H1459.19ZM906.92 1664.06H979.59V1668.91H906.92ZM1464.04 1664.06H1560.93V1668.91H1464.04ZM897.23 1668.91H974.74V1673.75H897.23ZM1468.88 1668.91H1560.93V1673.75H1468.88ZM887.54 1673.75H965.06V1678.6H887.54ZM1478.57 1673.75H1565.77V1678.6H1478.57ZM882.7 1678.6H960.21V1683.44H882.7ZM1478.57 1678.6H1570.62V1683.44H1478.57ZM882.7 1683.44H955.37V1688.29H882.7ZM1483.42 1683.44H1575.46V1688.29H1483.42ZM877.85 1688.29H950.52V1693.13H877.85ZM1493.11 1688.29H1580.31V1693.13H1493.11ZM877.85 1693.13H945.68V1697.98H877.85ZM1497.95 1693.13H1585.15V1697.98H1497.95ZM873.01 1697.98H945.68V1702.82H873.01ZM1502.8 1697.98H1590V1702.82H1502.8ZM858.48 1702.82H935.99V1707.66H858.48ZM1507.64 1702.82H1599.68V1707.66H1507.64ZM853.63 1707.66H931.14V1712.51H853.63ZM1512.48 1707.66H1604.53V1712.51H1512.48ZM843.94 1712.51H921.46V1717.35H843.94ZM1517.33 1712.51H1604.53V1717.35H1517.33ZM839.1 1717.35H921.46V1722.2H839.1ZM1527.02 1717.35H1609.37V1722.2H1527.02ZM582.34 1722.2H635.63V1727.04H582.34ZM839.1 1722.2H916.61V1727.04H839.1ZM1527.02 1722.2H1614.22V1727.04H1527.02ZM572.65 1727.04H645.32V1731.89H572.65ZM829.41 1727.04H911.77V1731.89H829.41ZM1531.86 1727.04H1619.06V1731.89H1531.86ZM562.96 1731.89H592.03V1736.73H562.96ZM621.1 1731.89H650.16V1736.73H621.1ZM814.88 1731.89H906.92V1736.73H814.88ZM1536.71 1731.89H1623.91V1736.73H1536.71ZM558.12 1736.73H587.18V1741.58H558.12ZM625.94 1736.73H659.85V1741.58H625.94ZM805.19 1736.73H902.08V1741.58H805.19ZM1546.4 1736.73H1633.6V1741.58H1546.4ZM558.12 1741.58H582.34V1746.42H558.12ZM635.63 1741.58H664.7V1746.42H635.63ZM800.34 1741.58H897.23V1746.42H800.34ZM1551.24 1741.58H1643.29V1746.42H1551.24ZM558.12 1746.42H577.5V1751.26H558.12ZM645.32 1746.42H674.39V1751.26H645.32ZM795.5 1746.42H892.39V1751.26H795.5ZM1560.93 1746.42H1643.29V1751.26H1560.93ZM553.27 1751.26H572.65V1756.11H553.27ZM650.16 1751.26H688.92V1756.11H650.16ZM790.65 1751.26H887.54V1756.11H790.65ZM1565.77 1751.26H1643.29V1756.11H1565.77ZM553.27 1756.11H567.81V1760.95H553.27ZM659.85 1756.11H693.76V1760.95H659.85ZM785.81 1756.11H882.7V1760.95H785.81ZM1570.62 1756.11H1643.29V1760.95H1570.62ZM548.43 1760.95H562.96V1765.8H548.43ZM669.54 1760.95H698.61V1765.8H669.54ZM771.28 1760.95H877.85V1765.8H771.28ZM1575.46 1760.95H1643.29V1765.8H1575.46ZM548.43 1765.8H558.12V1770.64H548.43ZM679.23 1765.8H713.14V1770.64H679.23ZM756.74 1765.8H877.85V1770.64H756.74ZM1580.31 1765.8H1643.29V1770.64H1580.31ZM693.76 1770.64H717.99V1775.49H693.76ZM747.05 1770.64H848.79V1775.49H747.05ZM1585.15 1770.64H1643.29V1775.49H1585.15ZM543.58 1770.64H553.27V1780.33H543.58ZM703.45 1775.49H848.79V1780.33H703.45ZM1590 1775.49H1643.29V1780.33H1590ZM538.74 1780.33H548.43V1785.18H538.74ZM713.14 1780.33H848.79V1785.18H713.14ZM538.74 1785.18H543.58V1790.02H538.74ZM722.83 1785.18H843.94V1790.02H722.83ZM1594.84 1780.33H1643.29V1790.02H1594.84ZM533.89 1790.02H538.74V1794.87H533.89ZM1599.68 1790.02H1643.29V1794.87H1599.68ZM529.05 1794.87H533.89V1799.71H529.05ZM1604.53 1794.87H1643.29V1799.71H1604.53ZM296.51 1799.71H340.12V1804.55H296.51ZM272.29 1814.24H286.83V1819.09H272.29ZM272.29 1819.09H281.98V1823.93H272.29Z"/>
<path fill="#008000" d="M592.03 1731.89H621.1V1736.73H592.03ZM587.18 1736.73H625.94V1741.58H587.18ZM582.34 1741.58H635.63V1746.42H582.34ZM577.5 1746.42H645.32V1751.26H577.5ZM1367.15 1746.42H1376.84V1751.26H1367.15ZM572.65 1751.26H650.16V1756.11H572.65ZM1362.3 1751.26H1381.68V1756.11H1362.3ZM567.81 1756.11H659.85V1760.95H567.81ZM1357.46 1756.11H1381.68V1760.95H1357.46ZM562.96 1760.95H669.54V1765.8H562.96ZM1352.62 1760.95H1391.37V1765.8H1352.62ZM558.12 1765.8H679.23V1770.64H558.12ZM553.27 1770.64H693.76V1775.49H553.27ZM553.27 1775.49H703.45V1780.33H553.27ZM1110.39 1775.49H1115.23V1780.33H1110.39ZM1202.44 1775.49H1207.28V1780.33H1202.44ZM1347.77 1765.8H1391.37V1780.33H1347.77ZM548.43 1780.33H713.14V1785.18H548.43ZM1052.26 1780.33H1057.1V1785.18H1052.26ZM1061.95 1780.33H1231.5V1785.18H1061.95ZM1284.79 1780.33H1299.33V1785.18H1284.79ZM1347.77 1780.33H1425.28V1785.18H1347.77ZM1444.66 1780.33H1454.35V1785.18H1444.66ZM1497.95 1780.33H1502.8V1785.18H1497.95ZM543.58 1785.18H596.87V1790.02H543.58ZM616.25 1785.18H722.83V1790.02H616.25ZM921.46 1785.18H950.52V1790.02H921.46ZM960.21 1785.18H1313.86V1790.02H960.21ZM1318.7 1785.18H1517.33V1790.02H1318.7ZM538.74 1790.02H592.03V1794.87H538.74ZM625.94 1790.02H1556.08V1794.87H625.94ZM1580.31 1790.02H1585.15V1794.87H1580.31ZM533.89 1794.87H592.03V1799.71H533.89ZM630.78 1794.87H1604.53V1799.71H630.78ZM524.21 1799.71H587.18V1804.55H524.21ZM640.47 1799.71H1643.29V1804.55H640.47ZM296.51 1804.55H587.18V1809.4H296.51ZM655.01 1804.55H1643.29V1809.4H655.01ZM286.83 1809.4H587.18V1814.24H286.83ZM664.7 1809.4H1643.29V1814.24H664.7ZM286.83 1814.24H582.34V1819.09H286.83ZM679.23 1814.24H1643.29V1819.09H679.23ZM281.98 1819.09H577.5V1823.93H281.98ZM684.07 1819.09H1643.29V1823.93H684.07ZM277.14 1823.93H572.65V1828.78H277.14ZM693.76 1823.93H1643.29V1828.78H693.76ZM281.98 1828.78H567.81V1833.62H281.98ZM698.61 1828.78H1367.15V1833.62H698.61ZM1376.84 1828.78H1643.29V1833.62H1376.84ZM281.98 1833.62H562.96V1838.47H281.98ZM727.67 1833.62H950.52V1838.47H727.67ZM965.06 1833.62H974.74V1838.47H965.06ZM1202.44 1833.62H1207.28V1838.47H1202.44ZM1270.26 1833.62H1275.1V1838.47H1270.26ZM1279.95 1833.62H1289.64V1838.47H1279.95ZM1294.48 1833.62H1362.3V1838.47H1294.48ZM1405.9 1833.62H1410.75V1838.47H1405.9ZM1430.13 1833.62H1643.29V1838.47H1430.13ZM281.98 1838.47H558.12V1843.31H281.98ZM751.9 1838.47H834.25V1843.31H751.9ZM843.94 1838.47H848.79V1843.31H843.94ZM853.63 1838.47H858.48V1843.31H853.63ZM1468.88 1838.47H1643.29V1843.31H1468.88ZM281.98 1843.31H548.43V1848.15H281.98ZM1527.02 1843.31H1531.86V1848.15H1527.02ZM1546.4 1843.31H1643.29V1848.15H1546.4ZM281.98 1848.15H533.89V1853H281.98ZM1599.68 1848.15H1643.29V1853H1599.68ZM291.67 1853H315.89V1857.84H291.67ZM1604.53 1853H1609.37V1857.84H1604.53ZM1633.6 1853H1643.29V1857.84H1633.6Z"/>
</g>
<defs><filter id="px" filterUnits="userSpaceOnUse" primitiveUnits="userSpaceOnUse" x="0" y="0" width="1740" height="2320" color-interpolation-filters="sRGB">
<feGaussianBlur in="SourceGraphic" stdDeviation="1.15" result="b"/>
<feFlood x="2" y="2" width="1" height="1" flood-color="#000" flood-opacity="1"/>
<feComposite width="5" height="5"/>
<feTile result="t"/>
<feComposite in="b" in2="t" operator="in"/>
<feMorphology operator="dilate" radius="2"/>
</filter></defs>
<rect x="223.9" y="84.7" width="159.8" height="5" fill="#000000"/>
<rect x="223.9" y="185.8" width="159.8" height="5" fill="#ff0000"/>
<rect x="223.9" y="283.5" width="159.8" height="5" fill="#0000ff"/>
<rect x="223.9" y="385.1" width="159.8" height="5" fill="#ff00ff"/>
<rect x="223.9" y="486.8" width="159.8" height="5" fill="#008000"/>
<rect x="291.7" y="70" width="28.9" height="33.8" fill="#000"/>
<rect x="301.2" y="166.7" width="9.7" height="5.0" fill="#ff0000"/>
<rect x="291.7" y="171.5" width="28.9" height="9.9" fill="#ff0000"/>
<rect x="286.8" y="181.2" width="38.7" height="9.9" fill="#ff0000"/>
<rect x="291.7" y="190.8" width="28.9" height="9.9" fill="#ff0000"/>
<rect x="301.2" y="200.5" width="9.7" height="5.0" fill="#ff0000"/>
<rect x="301.4" y="264.2" width="4.8" height="5.0" fill="#0000ff"/>
<rect x="296.5" y="269.0" width="14.5" height="9.9" fill="#0000ff"/>
<rect x="291.8" y="278.7" width="24.1" height="9.9" fill="#0000ff"/>
<rect x="286.8" y="288.4" width="38.8" height="9.9" fill="#0000ff"/>
<rect x="282.0" y="298.0" width="48.6" height="5.0" fill="#0000ff"/>
<rect x="282.0" y="375.3" width="48.6" height="5.0" fill="#ff00ff"/>
<rect x="286.8" y="380.1" width="38.8" height="9.9" fill="#ff00ff"/>
<rect x="291.8" y="389.8" width="28.9" height="9.9" fill="#ff00ff"/>
<rect x="296.5" y="399.5" width="14.5" height="9.9" fill="#ff00ff"/>
<rect x="301.4" y="409.1" width="4.8" height="5.0" fill="#ff00ff"/>
<rect x="301.4" y="467.4" width="4.8" height="5.0" fill="#008000"/>
<rect x="296.5" y="472.2" width="14.5" height="5.0" fill="#008000"/>
<rect x="291.8" y="477.1" width="28.9" height="5.0" fill="#008000"/>
<rect x="286.8" y="481.9" width="38.8" height="14.7" fill="#008000"/>
<rect x="291.8" y="496.4" width="28.9" height="5.0" fill="#008000"/>
<rect x="291.8" y="501.2" width="24.1" height="5.0" fill="#008000"/>
<rect x="296.5" y="506.0" width="14.5" height="5.0" fill="#008000"/>
<rect x="301.4" y="510.9" width="4.8" height="5.0" fill="#008000"/>
<g filter="url(#px)">
<g class="lg">
<text transform="scale(0.9070,1)" y="108.3"><tspan x="444.5">P</tspan><tspan x="504.5">r</tspan><tspan class="sup" x="538.8" dy="-29.3">3</tspan><tspan class="sup" x="564.1">+</tspan><tspan x="594.0" dy="29.3"> 0</tspan><tspan x="660.8"> m</tspan><tspan x="753.0">o</tspan><tspan class="sl" x="803.5">l</tspan><tspan x="825.4">%</tspan></text>
<text transform="scale(0.9070,1)" y="210.3"><tspan x="444.5">P</tspan><tspan x="504.5">r</tspan><tspan class="sup" x="538.8" dy="-29.3">3</tspan><tspan class="sup" x="564.1">+</tspan><tspan x="594.0" dy="29.3"> 2</tspan><tspan x="660.8"> m</tspan><tspan x="753.0">o</tspan><tspan class="sl" x="803.5">l</tspan><tspan x="825.4">%</tspan></text>
<text transform="scale(0.9070,1)" y="312.0"><tspan x="444.5">P</tspan><tspan x="504.5">r</tspan><tspan class="sup" x="538.8" dy="-29.3">3</tspan><tspan class="sup" x="564.1">+</tspan><tspan x="594.0" dy="29.3"> 5</tspan><tspan x="660.8"> m</tspan><tspan x="753.0">o</tspan><tspan class="sl" x="803.5">l</tspan><tspan x="825.4">%</tspan></text>
<text transform="scale(0.9070,1)" y="413.8"><tspan x="444.5">P</tspan><tspan x="504.5">r</tspan><tspan class="sup" x="538.8" dy="-29.3">3</tspan><tspan class="sup" x="564.1">+</tspan><tspan x="589.5" dy="29.3"> 1</tspan><tspan x="662.9">0</tspan><tspan x="703.8"> m</tspan><tspan x="797.1">o</tspan><tspan class="sl" x="850.1">l</tspan><tspan x="871.4">%</tspan></text>
<text transform="scale(0.9070,1)" y="510.5"><tspan x="444.5">P</tspan><tspan x="504.5">r</tspan><tspan class="sup" x="538.8" dy="-29.3">3</tspan><tspan class="sup" x="564.1">+</tspan><tspan x="589.5" dy="29.3"> 1</tspan><tspan x="662.9">0</tspan><tspan x="707.0">0</tspan><tspan x="751.5"> m</tspan><tspan x="844.8">o</tspan><tspan class="sl" x="892.4">l</tspan><tspan x="913.6">%</tspan></text>
</g>
<g class="tk">
<text transform="scale(1.0400,1)" y="2066"><tspan x="109.4">3</tspan><tspan x="167.0">0</tspan><tspan x="229.0">0</tspan></text>
<text transform="scale(1.0400,1)" y="2066"><tspan x="420.3">4</tspan><tspan x="475.7">0</tspan><tspan x="536.7">0</tspan></text>
<text transform="scale(1.0400,1)" y="2066"><tspan x="727.2">5</tspan><tspan x="783.4">0</tspan><tspan x="841.1">0</tspan></text>
<text transform="scale(1.0400,1)" y="2066"><tspan x="1035.0">6</tspan><tspan x="1087.9">0</tspan><tspan x="1147.2">0</tspan></text>
<text transform="scale(1.0400,1)" y="2066"><tspan x="1334.0">7</tspan><tspan x="1395.6">0</tspan><tspan x="1454.9">0</tspan></text>
</g>
<text class="ax" transform="scale(0.9300,1)" y="2191.7"><tspan x="561.5">W</tspan><tspan x="695.4">a</tspan><tspan x="755.9">v</tspan><tspan x="826.2">e</tspan><tspan class="sa" x="877.1">l</tspan><tspan x="915.8">e</tspan><tspan x="978.0">n</tspan><tspan x="1046.0">g</tspan><tspan x="1109.6">t</tspan><tspan class="sa" x="1148.3">h</tspan><tspan x="1222.0"> (</tspan><tspan x="1295.2">n</tspan><tspan x="1368.6">m</tspan><tspan x="1466.0">)</tspan></text>
<text class="ax" transform="translate(112.3,2243.0) rotate(-90) scale(0.9300,1)" y="0"><tspan x="931.5">I</tspan><tspan x="990.1">n</tspan><tspan x="1059.3">t</tspan><tspan x="1103.6">e</tspan><tspan x="1162.2">n</tspan><tspan x="1234.1">s</tspan><tspan x="1281.5">i</tspan><tspan x="1313.9">t</tspan><tspan x="1356.3">y</tspan><tspan x="1422.3"> (</tspan><tspan x="1499.7">a</tspan><tspan x="1560.9">.</tspan><tspan x="1596.3">u</tspan><tspan x="1664.7">.</tspan><tspan x="1692.2">)</tspan></text>
</g>
</svg>
</body></html>
